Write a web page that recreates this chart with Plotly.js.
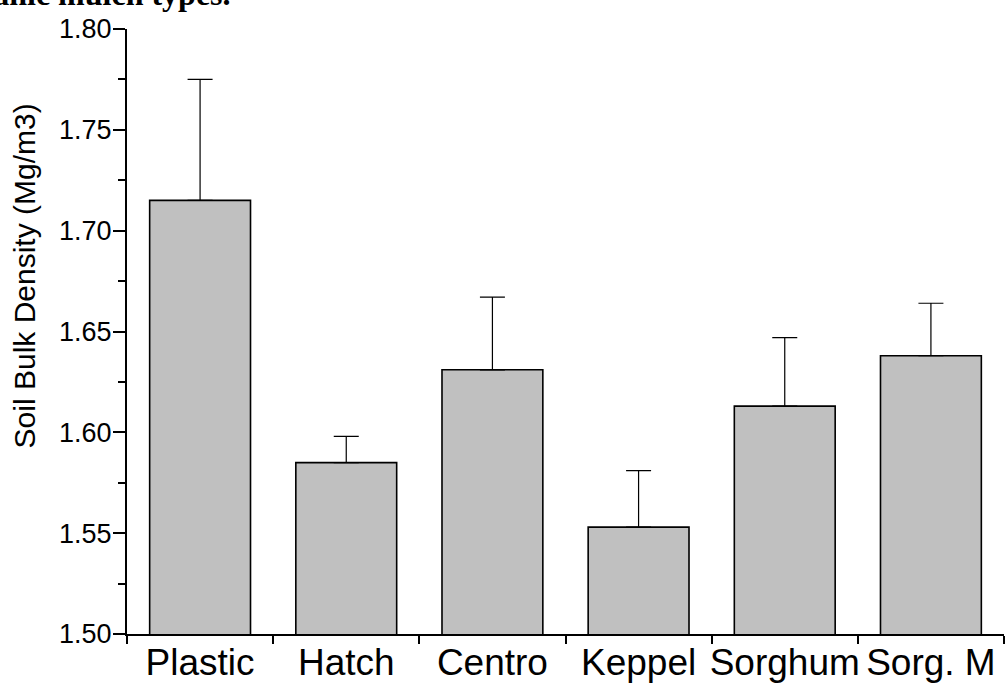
<!DOCTYPE html>
<html><head><meta charset="utf-8">
<script src="https://cdn.plot.ly/plotly-3.0.1.min.js"></script>
<style>html,body{margin:0;padding:0;background:#fff;overflow:hidden;}#chart{width:1005px;height:684px;}</style>
</head><body><div id="chart"></div>
<script>
const categories = ["Plastic", "Hatch", "Centro", "Keppel", "Sorghum", "Sorg. M"];
const bulkDensity = [1.715, 1.585, 1.631, 1.553, 1.613, 1.638];
const errorPlus = [0.060, 0.013, 0.036, 0.028, 0.034, 0.026];
const errorMinus = [0, 0, 0, 0, 0, 0];
const yTickValues = [1.50, 1.55, 1.60, 1.65, 1.70, 1.75, 1.80];
const yTickLabels = ["1.50", "1.55", "1.60", "1.65", "1.70", "1.75", "1.80"];
const boundaryTicks = [-0.5, 0.5, 1.5, 2.5, 3.5, 4.5, 5.5];
const yTitle = "Soil Bulk Density (Mg/m3)";
const captionText = "organic mulch types.";

const sans = "Liberation Sans, Arial, sans-serif";

const trace = {
  type: "bar",
  x: categories,
  y: bulkDensity,
  marker: {color: "#c0c0c0", line: {color: "#000", width: 1.6}},
  error_y: {type: "data", symmetric: false, array: errorPlus, arrayminus: errorMinus,
            color: "#000", thickness: 1.2, width: 12.5},
  hoverinfo: "x+y"
};

const layout = {
  width: 1005, height: 684,
  margin: {l: 127, r: 1, t: 29, b: 50, pad: 0},
  paper_bgcolor: "#fff", plot_bgcolor: "#fff",
  showlegend: false,
  bargap: 0.31,
  xaxis: {
    type: "category",
    range: [-0.5, 5.5],
    tickson: "boundaries",
    tickangle: 0,
    ticks: "outside", ticklen: 8, tickwidth: 2, tickcolor: "#000",
    showline: true, linecolor: "#000", linewidth: 2,
    showgrid: false, zeroline: false,
    ticklabelstandoff: -5,
    tickfont: {family: sans, size: 37, color: "#000"},
    automargin: false
  },
  xaxis2: {
    type: "linear", overlaying: "x", anchor: "y", side: "bottom",
    range: [-0.5, 5.5],
    tickmode: "array", tickvals: boundaryTicks,
    ticks: "inside", ticklen: 7, tickwidth: 2, tickcolor: "#000",
    showticklabels: false, showline: false, showgrid: false, zeroline: false
  },
  yaxis: {
    range: [1.5, 1.8],
    tickmode: "array", tickvals: yTickValues, ticktext: yTickLabels,
    ticks: "outside", ticklen: 12, tickwidth: 2, tickcolor: "#000",
    minor: {dtick: 0.025, tick0: 1.5, ticks: "outside", ticklen: 7, tickwidth: 2, tickcolor: "#000", showgrid: false},
    showline: true, linecolor: "#000", linewidth: 2,
    showgrid: false, zeroline: false,
    ticklabelstandoff: -4,
    tickfont: {family: sans, size: 27, color: "#000"},
    automargin: false
  },
  annotations: [{
    text: "<b>" + captionText + "</b>",
    xref: "paper", yref: "paper", x: 0.1208, y: 1, xanchor: "right", yanchor: "bottom",
    yshift: 15, showarrow: false,
    font: {family: "Liberation Serif, Times New Roman, serif", size: 32, color: "#000"}
  }, {
    text: yTitle,
    xref: "paper", yref: "paper", x: -0.117, y: 0.5917, xanchor: "center", yanchor: "middle",
    textangle: -90, showarrow: false,
    font: {family: sans, size: 30, color: "#000"}
  }]
};

Plotly.newPlot("chart", [trace], layout, {displayModeBar: false, staticPlot: true});
</script>
</body></html>
